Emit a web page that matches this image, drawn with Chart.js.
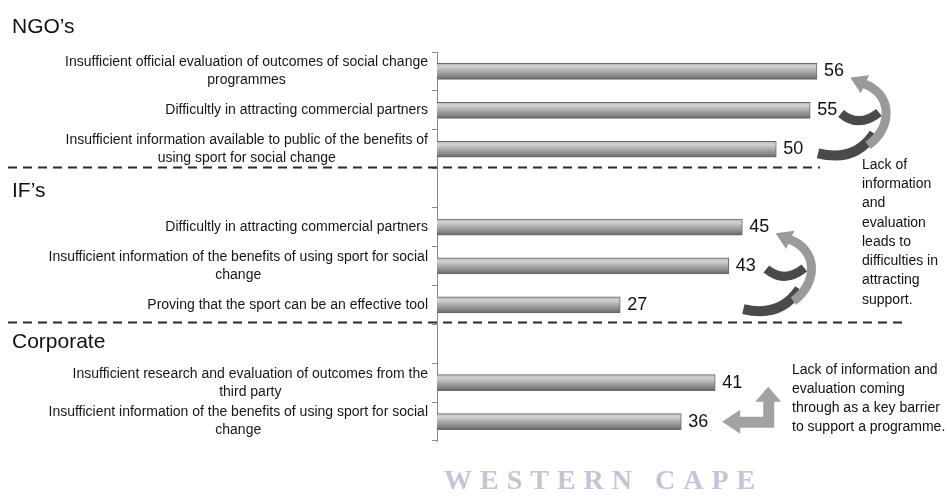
<!DOCTYPE html>
<html>
<head>
<meta charset="utf-8">
<script src="https://cdn.jsdelivr.net/npm/chart.js@4.4.1/dist/chart.umd.min.js"></script>
<style>
    html, body { margin: 0; padding: 0; background: #fff; }
    #wrap { width: 947px; height: 498px; }
</style>
</head>
<body>
<div id="wrap"><canvas id="barriersChart" width="947" height="498"></canvas></div>
<script>
// Values
const groupNames = ['NGO\u2019s', 'IF\u2019s', 'Corporate'];

const ngoLabels = [
    ['Insufficient official evaluation of outcomes of social change', 'programmes'],
    ['Difficultly in attracting commercial partners'],
    ['Insufficient information available to public of the benefits of', 'using sport for social change']
];
const ngoValues = [56, 55, 50];

const ifLabels = [
    ['Difficultly in attracting commercial partners'],
    ['Insufficient information of the benefits of using sport for social', 'change'],
    ['Proving that the sport can be an effective tool']
];
const ifValues = [45, 43, 27];

const corpLabels = [
    ['Insufficient research and evaluation of outcomes from the', 'third party'],
    ['Insufficient information of the benefits of using sport for social', 'change']
];
const corpValues = [41, 36];

const noteIF = ['Lack of', 'information', 'and', 'evaluation', 'leads to', 'difficulties in', 'attracting', 'support.'];
const noteCorp = ['Lack of information and', 'evaluation coming', 'through as a key barrier', 'to support a programme.'];
const watermark = 'WESTERN CAPE';

// one empty slot between groups leaves room for the headers
const categories = [...ngoLabels, [], ...ifLabels, [], ...corpLabels];
const values = [...ngoValues, null, ...ifValues, null, ...corpValues];

const FONT = '"Liberation Sans", Arial, sans-serif';

function barGradient(c) {
    const { ctx, chartArea, scales } = c.chart;
    if (!chartArea) return '#a0a0a0';
    const yc = scales.y.getPixelForValue(c.dataIndex);
    const g = ctx.createLinearGradient(0, yc - 8, 0, yc + 8);
    g.addColorStop(0, '#b4b4b4');
    g.addColorStop(0.2, '#d2d2d2');
    g.addColorStop(0.55, '#a4a4a4');
    g.addColorStop(0.85, '#808080');
    g.addColorStop(1, '#5e5e5e');
    return g;
}

// curved arrows beside a group, placed from the end of the group's first bar
function drawLoopArrows(ctx, ax, ay) {
    ctx.save();
    ctx.lineCap = 'butt';
    ctx.strokeStyle = '#4a4a4a';
    ctx.lineWidth = 9;
    ctx.beginPath();
    ctx.moveTo(ax + 24, ay + 42);
    ctx.quadraticCurveTo(ax + 42, ay + 57, ax + 62, ay + 41);
    ctx.stroke();
    ctx.lineWidth = 10;
    ctx.beginPath();
    ctx.moveTo(ax + 1, ay + 82);
    ctx.quadraticCurveTo(ax + 38, ay + 91, ax + 57, ay + 62);
    ctx.stroke();

    ctx.strokeStyle = '#9a9a9a';
    ctx.fillStyle = '#9a9a9a';
    ctx.lineWidth = 9;
    ctx.beginPath();
    ctx.moveTo(ax + 51, ay + 74);
    ctx.bezierCurveTo(ax + 76, ay + 56, ax + 76, ay + 22, ax + 46, ay + 12);
    ctx.stroke();
    const bx = ax + 46, by = ay + 12;
    let dx = 46 - 72, dy = 12 - 24;
    const len = Math.hypot(dx, dy);
    dx /= len; dy /= len;
    ctx.beginPath();
    ctx.moveTo(bx + dx * 14, by + dy * 14);
    ctx.lineTo(bx - dy * 10 - dx * 2, by + dx * 10 - dy * 2);
    ctx.lineTo(bx + dy * 10 - dx * 2, by - dx * 10 - dy * 2);
    ctx.closePath();
    ctx.fill();
    ctx.restore();
}

function drawElbowArrow(ctx, ax, ay) {
    const pts = [[7, 39], [25, 27], [25, 34], [48, 34], [48, 19], [40, 19], [53, 4],
                 [66, 19], [59, 19], [59, 45], [25, 45], [25, 51]];
    ctx.save();
    ctx.fillStyle = '#a2a2a2';
    ctx.beginPath();
    pts.forEach(([px, py], i) => i ? ctx.lineTo(ax + px, ay + py) : ctx.moveTo(ax + px, ay + py));
    ctx.closePath();
    ctx.fill();
    ctx.restore();
}

const decorPlugin = {
    id: 'decor',
    afterDraw(chart) {
        const ctx = chart.ctx;
        const xs = chart.scales.x, ys = chart.scales.y;
        const meta = chart.getDatasetMeta(0);
        ctx.save();

        // dashed separators between groups
        ctx.strokeStyle = '#2a2a2a';
        ctx.lineWidth = 2;
        ctx.setLineDash([9, 6]);
        [[2.45, 820], [6.45, 908]].forEach(([idx, x2]) => {
            const yy = Math.round(ys.getPixelForValue(idx)) + 0.5;
            ctx.beginPath();
            ctx.moveTo(8, yy);
            ctx.lineTo(x2, yy);
            ctx.stroke();
        });
        ctx.setLineDash([]);

        // group headers
        ctx.fillStyle = '#111';
        ctx.font = '21px ' + FONT;
        ctx.textAlign = 'left';
        ctx.textBaseline = 'alphabetic';
        [-1.0, 3.23, 7.11].forEach((idx, g) => {
            ctx.fillText(groupNames[g], 12, ys.getPixelForValue(idx));
        });

        // category labels: right aligned block, lines centred in it
        ctx.font = '14px ' + FONT;
        ctx.fillStyle = '#161616';
        ctx.textBaseline = 'middle';
        ctx.textAlign = 'center';
        const right = ys.right - 9;
        categories.forEach((lines, i) => {
            if (!lines.length) return;
            const yc = ys.getPixelForValue(i);
            const w = Math.max(...lines.map(l => ctx.measureText(l).width));
            lines.forEach((l, k) => {
                ctx.fillText(l, right - w / 2, yc + (k - (lines.length - 1) / 2) * 18);
            });
        });

        // value labels
        ctx.font = '18px ' + FONT;
        ctx.fillStyle = '#111';
        ctx.textAlign = 'left';
        meta.data.forEach((bar, i) => {
            if (values[i] == null) return;
            ctx.fillText(String(values[i]), bar.x + 7, bar.y);
        });

        // arrows
        drawLoopArrows(ctx, xs.getPixelForValue(ngoValues[0]), ys.getPixelForValue(0));
        drawLoopArrows(ctx, xs.getPixelForValue(ifValues[0]), ys.getPixelForValue(4));
        drawElbowArrow(ctx, xs.getPixelForValue(corpValues[0]), ys.getPixelForValue(8));

        // notes
        ctx.font = '14px ' + FONT;
        ctx.fillStyle = '#111';
        ctx.textAlign = 'left';
        let y0 = ys.getPixelForValue(2.4);
        noteIF.forEach((l, k) => ctx.fillText(l, 862, y0 + k * 19.3));
        y0 = ys.getPixelForValue(7.68);
        noteCorp.forEach((l, k) => ctx.fillText(l, 792, y0 + k * 19));

        // watermark
        ctx.font = 'bold 28px "Liberation Serif", "Times New Roman", serif';
        ctx.fillStyle = '#c4c4d8';
        ctx.letterSpacing = '8px';
        ctx.textAlign = 'left';
        ctx.textBaseline = 'alphabetic';
        ctx.fillText(watermark, 444, 489);
        ctx.restore();
    }
};

const chart = new Chart(document.getElementById('barriersChart'), {
    type: 'bar',
    data: {
        labels: categories.map((l, i) => l.join(' ') || ' '.repeat(i)),
        datasets: [{
            data: values,
            backgroundColor: barGradient,
            borderColor: '#6a6a6a',
            borderWidth: 1,
            barThickness: 16
        }]
    },
    options: {
        indexAxis: 'y',
        responsive: false,
        animation: false,
        devicePixelRatio: 1,
        layout: { padding: { top: 52, bottom: 57, left: 0, right: 35 } },
        plugins: {
            legend: { display: false },
            tooltip: { enabled: false }
        },
        scales: {
            x: {
                display: false,
                min: 0,
                max: 70
            },
            y: {
                ticks: { display: false },
                grid: {
                    drawOnChartArea: false,
                    drawTicks: true,
                    tickLength: 5,
                    color: '#8a8a8a'
                },
                border: { display: true, color: '#8a8a8a' },
                afterFit: (scale) => { scale.width = 437; }
            }
        }
    },
    plugins: [decorPlugin]
});
</script>
</body>
</html>
